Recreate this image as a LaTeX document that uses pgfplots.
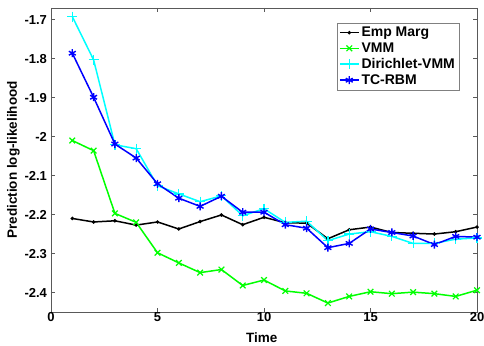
\documentclass[border=0pt]{standalone}
\usepackage{pgfplots}
\pgfplotsset{compat=1.18}
\usepackage{fontspec}
\setmainfont{Liberation Sans}
\begin{document}
\begin{tikzpicture}
\begin{axis}[
  at={(0pt,0pt)}, anchor=south west,
  scale only axis, width=426pt, height=304pt,
  xmin=0, xmax=20, ymin=-2.45, ymax=-1.67,
  xtick={0,5,10,15,20},
  ytick={-2.4,-2.3,-2.2,-2.1,-2,-1.9,-1.8,-1.7},
  yticklabels={-2.4,-2.3,-2.2,-2.1,-2,-1.9,-1.8,-1.7},
  tick align=inside, tick pos=both,
  major tick length=4pt,
  axis line style={gray!70!black, line width=0.6pt},
  tick style={gray!70!black, line width=0.5pt},
  /pgf/number format/assume math mode=true,
  ticklabel style={font=\fontsize{13}{15}\selectfont\bfseries},
  xticklabel style={yshift=1.5pt, inner ysep=2pt},
  yticklabel style={xshift=-0.5pt},
  xlabel={Time}, ylabel={Prediction log-likelihood},
  label style={font=\fontsize{13.5}{15}\selectfont\bfseries},
  xlabel style={at={(axis description cs:0.495,0)}, anchor=north, yshift=-19.5pt, inner ysep=1pt},
  ylabel style={yshift=-2pt},
  legend style={at={(0.958,0.951)}, anchor=north east, draw=gray, line width=0.5pt,
    font=\fontsize{14}{16}\selectfont\bfseries, row sep=0.5pt, inner sep=2pt},
  legend cell align=left,
  legend image code/.code={\draw[mark repeat=2,mark phase=2,#1] plot coordinates {(0pt,0pt) (9.5pt,0pt) (19pt,0pt)};},
  every axis plot/.append style={line width=1.5pt},
]
\addplot[black, mark=*, mark size=0.9pt] coordinates {
(1,-2.210)(2,-2.219)(3,-2.216)(4,-2.227)(5,-2.219)(6,-2.237)(7,-2.218)(8,-2.201)(9,-2.226)(10,-2.207)
(11,-2.221)(12,-2.222)(13,-2.262)(14,-2.239)(15,-2.232)(16,-2.246)(17,-2.248)(18,-2.250)(19,-2.244)(20,-2.232)};
\addlegendentry{Emp Marg}
\addplot[color={rgb,1:red,0;green,1;blue,0}, mark=x, mark size=4pt, mark options={line width=1.2pt}] coordinates {
(1,-2.010)(2,-2.036)(3,-2.197)(4,-2.220)(5,-2.298)(6,-2.324)(7,-2.349)(8,-2.341)(9,-2.382)(10,-2.368)
(11,-2.396)(12,-2.402)(13,-2.427)(14,-2.410)(15,-2.398)(16,-2.403)(17,-2.399)(18,-2.403)(19,-2.410)(20,-2.394)};
\addlegendentry{VMM}
\addplot[color={rgb,1:red,0;green,1;blue,1}, mark=+, mark size=5pt, mark options={line width=1.2pt}] coordinates {
(1,-1.692)(2,-1.803)(3,-2.021)(4,-2.031)(5,-2.126)(6,-2.147)(7,-2.167)(8,-2.152)(9,-2.203)(10,-2.185)
(11,-2.220)(12,-2.217)(13,-2.267)(14,-2.250)(15,-2.244)(16,-2.256)(17,-2.274)(18,-2.274)(19,-2.263)(20,-2.260)};
\addlegendentry{Dirichlet-VMM}
\addplot[color={rgb,1:red,0;green,0;blue,1}, mark=asterisk, mark size=4pt, mark options={line width=1.4pt}] coordinates {
(1,-1.786)(2,-1.899)(3,-2.019)(4,-2.055)(5,-2.121)(6,-2.158)(7,-2.179)(8,-2.153)(9,-2.194)(10,-2.194)
(11,-2.226)(12,-2.235)(13,-2.285)(14,-2.274)(15,-2.237)(16,-2.246)(17,-2.255)(18,-2.277)(19,-2.256)(20,-2.258)};
\addlegendentry{TC-RBM}
\end{axis}
\pgfresetboundingbox
\path (-51pt,-33pt) rectangle (433pt,312pt);
\end{tikzpicture}
\end{document}
